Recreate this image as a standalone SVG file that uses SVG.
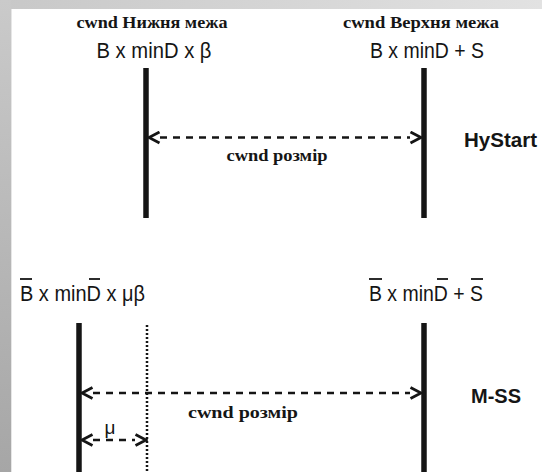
<svg xmlns="http://www.w3.org/2000/svg" width="542" height="472" viewBox="0 0 542 472">
<defs>
<linearGradient id="lg" x1="0" y1="0" x2="0" y2="1">
<stop offset="0" stop-color="#cacaca"/>
<stop offset="1" stop-color="#a6a6a6"/>
</linearGradient>
<linearGradient id="tg" x1="0" y1="0" x2="1" y2="0">
<stop offset="0" stop-color="#c8c8c8"/>
<stop offset="1" stop-color="#e2e2e2"/>
</linearGradient>
<marker id="ah" viewBox="0 0 14 14" refX="1.5" refY="7" markerWidth="14" markerHeight="14" markerUnits="userSpaceOnUse" orient="auto-start-reverse">
<path d="M2,1.5 L12.5,7 L2,12.5" fill="none" stroke="#151515" stroke-width="2.8"/>
</marker>
<style>
.ser{font-family:"Liberation Serif","Times New Roman",serif;font-weight:bold;font-size:17px;fill:#151515}
.san{font-family:"Liberation Sans",Arial,sans-serif;font-size:22px;fill:#151515}
.bold{font-family:"Liberation Sans",Arial,sans-serif;font-weight:bold;font-size:20px;fill:#151515}
.bar{stroke:#151515;stroke-width:5.5;fill:none}
.dash{stroke:#151515;stroke-width:2.3;stroke-dasharray:7 6;fill:none}
.dot{stroke:#151515;stroke-width:2.5;stroke-dasharray:2 2;fill:none}
.ov{stroke:#151515;stroke-width:1.8}
</style>
</defs>
<rect width="542" height="472" fill="#ffffff"/>
<rect x="0" y="0" width="542" height="9" fill="url(#tg)"/>
<rect x="0" y="0" width="11" height="472" fill="url(#lg)"/>
<line x1="11.5" y1="9" x2="11.5" y2="472" stroke="#e6e6e6" stroke-width="1"/>

<g id="hystart-lower">
<text class="ser" x="152" y="28" text-anchor="middle" textLength="151" lengthAdjust="spacingAndGlyphs">cwnd Нижня межа</text>
<text class="san" x="154" y="58" text-anchor="middle" textLength="115" lengthAdjust="spacingAndGlyphs">B x minD x β</text>
<line class="bar" x1="146" y1="68" x2="146" y2="218"/>
</g>
<g id="hystart-upper">
<text class="ser" x="421" y="28" text-anchor="middle" textLength="156" lengthAdjust="spacingAndGlyphs">cwnd Верхня межа</text>
<text class="san" x="427" y="58" text-anchor="middle" textLength="114" lengthAdjust="spacingAndGlyphs">B x minD + S</text>
<line class="bar" x1="424" y1="68" x2="424" y2="218"/>
</g>
<g id="hystart-label">
<text class="bold" x="464" y="147" textLength="73" lengthAdjust="spacingAndGlyphs">HyStart</text>
</g>

<g id="mss-lower">
<text class="san" x="20" y="301" textLength="125" lengthAdjust="spacingAndGlyphs">B x minD x μβ</text>
<line class="ov" x1="20" y1="279" x2="32" y2="279"/>
<line class="ov" x1="89" y1="279" x2="100" y2="279"/>
<line class="bar" x1="79" y1="323" x2="79" y2="472"/>
</g>
<g id="mss-mu">
<line class="dot" x1="147" y1="325" x2="147" y2="472"/>
<text class="san" x="110" y="434" text-anchor="middle" style="font-size:19px">μ</text>
</g>
<g id="mss-upper">
<text class="san" x="369" y="301" textLength="114" lengthAdjust="spacingAndGlyphs">B x minD + S</text>
<line class="ov" x1="369" y1="279" x2="382" y2="279"/>
<line class="ov" x1="437" y1="279" x2="448" y2="279"/>
<line class="ov" x1="471" y1="279" x2="483" y2="279"/>
<line class="bar" x1="424" y1="323" x2="424" y2="472"/>
</g>
<g id="mss-label">
<text class="bold" x="471" y="403" textLength="50" lengthAdjust="spacingAndGlyphs">M-SS</text>
</g>

<g id="connectors">
<line class="dash" x1="160" y1="137.5" x2="410" y2="137.5" marker-start="url(#ah)" marker-end="url(#ah)"/>
<text class="ser" x="277" y="161" text-anchor="middle" textLength="101" lengthAdjust="spacingAndGlyphs">cwnd розмір</text>
<line class="dash" x1="93" y1="393" x2="410" y2="393" marker-start="url(#ah)" marker-end="url(#ah)"/>
<text class="ser" x="243" y="418" text-anchor="middle" textLength="110" lengthAdjust="spacingAndGlyphs">cwnd розмір</text>
<line class="dash" x1="93" y1="440" x2="135" y2="440" marker-start="url(#ah)" marker-end="url(#ah)"/>
</g>
</svg>
